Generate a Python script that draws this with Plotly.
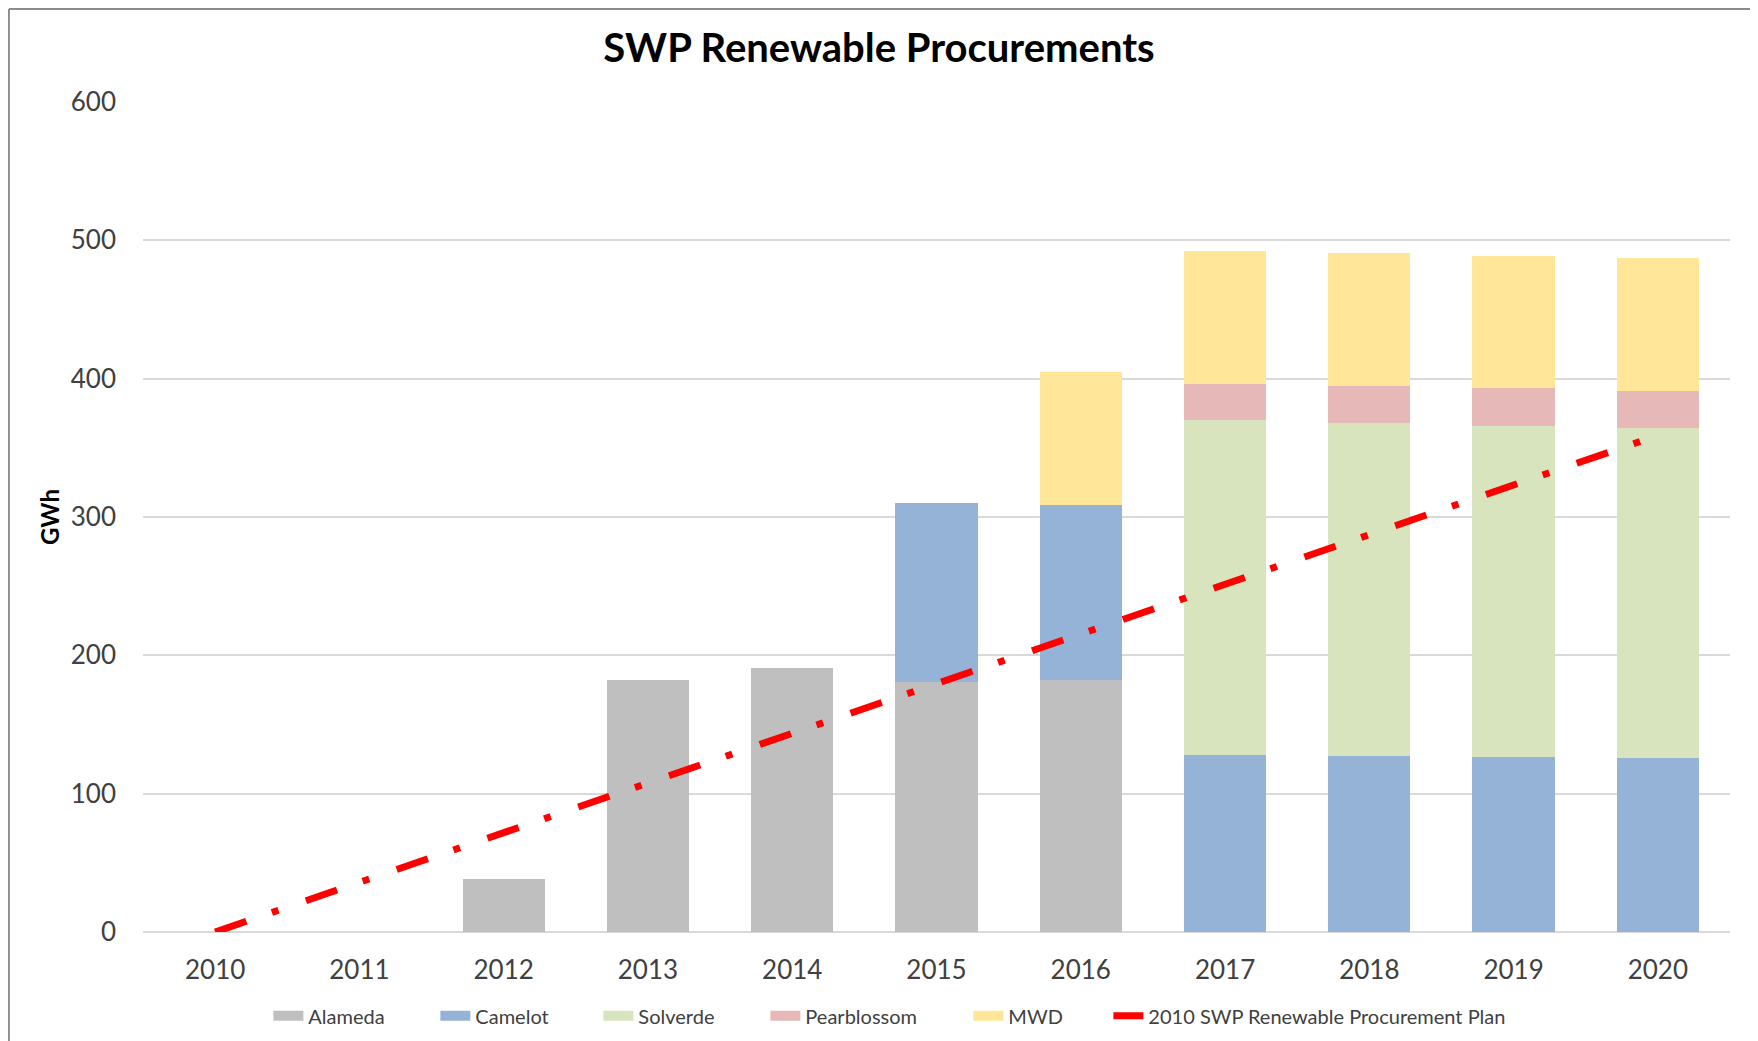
import plotly.graph_objects as go

years = ["2010", "2011", "2012", "2013", "2014", "2015", "2016", "2017", "2018", "2019", "2020"]
alameda = [0, 0, 38, 182, 191, 181, 182, 0, 0, 0, 0]
camelot = [0, 0, 0, 0, 0, 129, 127, 128, 127, 126.5, 126]
solverde = [0, 0, 0, 0, 0, 0, 0, 242, 241, 239.5, 238]
pearblossom = [0, 0, 0, 0, 0, 0, 0, 26, 26.5, 27, 27]
mwd = [0, 0, 0, 0, 0, 0, 96, 96, 96, 96, 96]
plan = [0, 36, 72, 108, 143, 180, 215, 251, 287, 323, 359]

FONT = "Lato"
TICK_COLOR = "#404040"

fig = go.Figure()
bar_specs = [
    ("Alameda", alameda, "#bfbfbf", 122),
    ("Camelot", camelot, "#95b3d7", 118),
    ("Solverde", solverde, "#d7e4bd", 122),
    ("Pearblossom", pearblossom, "#e6b9b8", 158),
    ("MWD", mwd, "#ffe699", 95),
]
for name, vals, color, lw in bar_specs:
    fig.add_trace(go.Bar(
        x=years, y=vals, name=name, marker=dict(color=color, line=dict(width=0)),
        legendgroup=name, showlegend=False,
    ))
    # legend-only entry drawn as a wide swatch
    fig.add_trace(go.Scatter(
        x=[None], y=[None], name=name, mode="lines", legendgroup=name,
        line=dict(color=color, width=14), legendwidth=lw, hoverinfo="skip",
    ))

fig.add_trace(go.Scatter(
    x=years, y=plan, name="2010 SWP Renewable Procurement Plan", mode="lines",
    line=dict(color="#ff0000", width=7, dash="33px,27px,7px,29px"),
))

W, H = 1750, 1060
fig.update_layout(
    barmode="stack",
    bargap=0.43,
    width=W, height=H,
    margin=dict(l=135, r=28, t=94, b=136),
    paper_bgcolor="white", plot_bgcolor="white",
    font=dict(family=FONT, color=TICK_COLOR),
    title=dict(
        text="<b>SWP Renewable Procurements</b>",
        x=(879 - 8) / W, xref="container", xanchor="center",
        y=1 - 40 / H, yref="container", yanchor="middle",
        font=dict(family=FONT, size=40, color="#000000"),
    ),
    xaxis=dict(
        type="category", range=[-0.5, 10.5],
        showgrid=False, showline=False, zeroline=False,
        tickfont=dict(size=26, color=TICK_COLOR),
        ticks="", ticklabelstandoff=20,
    ),
    yaxis=dict(
        range=[0, 600], dtick=100,
        showgrid=True, gridcolor="#d9d9d9", gridwidth=1.5,
        zeroline=True, zerolinecolor="#d9d9d9", zerolinewidth=1.5,
        showline=False,
        tickfont=dict(size=26, color=TICK_COLOR),
        ticks="", ticklabelstandoff=26,
        title=dict(text="<b>GWh</b>", font=dict(size=24, color="#000000"), standoff=4),
    ),
    legend=dict(
        orientation="h", x=0.079, xanchor="left", y=-0.101, yanchor="middle",
        font=dict(size=20, color=TICK_COLOR),
        traceorder="normal", bgcolor="rgba(0,0,0,0)",
    ),
    shapes=[
        dict(type="line", xref="paper", yref="paper", x0=-0.0845, x1=-0.0845, y0=-0.16, y1=1.112,
             line=dict(color="#8c8c8c", width=2)),
        dict(type="line", xref="paper", yref="paper", x0=-0.0845, x1=1.03, y0=1.112, y1=1.112,
             line=dict(color="#8c8c8c", width=2)),
    ],
)

fig.write_html("out.html")
